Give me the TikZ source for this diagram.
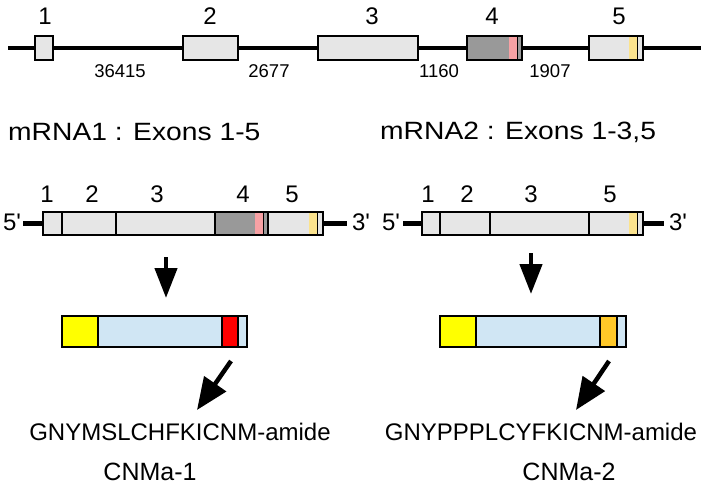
\documentclass[tikz,border=0pt]{standalone}
\usepackage{fontspec}
\setmainfont{Liberation Sans}
\usetikzlibrary{arrows.meta}
\definecolor{exgray}{HTML}{E6E6E6}
\definecolor{exdark}{HTML}{999999}
\definecolor{expink}{HTML}{F7A1A4}
\definecolor{exyel}{HTML}{FBE38E}
\definecolor{pyel}{HTML}{FFFF00}
\definecolor{pblue}{HTML}{D0E6F4}
\definecolor{pred}{HTML}{FF0000}
\definecolor{porange}{HTML}{FFC828}
\begin{document}
\begin{tikzpicture}[x=1pt,y=-1pt,
  bx/.style={draw=black, line width=1.3pt},
  sep/.style={draw=black, line width=1.1pt},
  gline/.style={line width=4pt},
  bigarrow/.style={line width=4.5pt, -{Triangle[length=30pt,width=22pt]}},
  numlab/.style={font=\fontsize{24}{27}\selectfont, inner sep=0pt},
  intlab/.style={font=\fontsize{18.5}{21}\selectfont, inner sep=0pt},
  head/.style={font=\fontsize{25}{28}\selectfont, inner sep=0pt, anchor=west},
  seq/.style={font=\fontsize{24}{28}\selectfont, inner sep=0pt},
]
\useasboundingbox (0,0) rectangle (705,498);

% ---------- genomic structure ----------
\coordinate (gL) at (8,48);
\coordinate (gR) at (701,48);
\draw[gline] (gL) -- (gR);
\filldraw[fill=exgray, bx] (35,36) rectangle (53,60);
\filldraw[fill=exgray, bx] (183,36) rectangle (238,60);
\filldraw[fill=exgray, bx] (318,36) rectangle (418,60);
\fill[exdark] (467,36) rectangle (522,60);
\fill[expink] (509,36) rectangle (517,60);
\draw[line width=0.8pt] (517.5,36) -- (517.5,60);
\draw[bx] (467,36) rectangle (522,60);
\fill[exgray] (589,36) rectangle (643,60);
\fill[exyel] (629,36) rectangle (637,60);
\draw[line width=0.8pt] (637.5,36) -- (637.5,60);
\draw[bx] (589,36) rectangle (643,60);

\node[numlab] (t1) at (45,16) {1};
\node[numlab] (t2) at (210,16) {2};
\node[numlab] (t3) at (372,16) {3};
\node[numlab] (t4) at (492,16) {4};
\node[numlab] (t5) at (619,16) {5};

\node[intlab] (i1) at (120,71) {36415};
\node[intlab] (i2) at (269,71) {2677};
\node[intlab] (i3) at (439,71) {1160};
\node[intlab] (i4) at (550,71) {1907};

% ---------- headings ----------
\node[head] (h1) at (8,132) {\scalebox{1.13}[1]{mRNA1 : Exons 1-5}};
\node[head] (h2) at (380,132) {\scalebox{1.13}[1]{mRNA2 : Exons 1-3,5}};

% ---------- mRNA1 ----------
\coordinate (m1L) at (23,223);
\coordinate (m1R) at (347,223);
\draw[gline, line width=5pt] (m1L) -- (m1R);
\fill[exgray] (43,212) rectangle (323,235);
\fill[exdark] (215,212) rectangle (268,235);
\fill[expink] (255,212) rectangle (263,235);
\fill[exyel] (309,212) rectangle (317,235);
\draw[sep] (62,212) -- (62,235);
\draw[sep] (116,212) -- (116,235);
\draw[sep] (215,212) -- (215,235);
\draw[sep] (268,212) -- (268,235);
\draw[line width=0.8pt] (263.5,212) -- (263.5,235);
\draw[line width=0.8pt] (317.5,212) -- (317.5,235);
\draw[bx] (43,212) rectangle (323,235);

\node[numlab] (a1) at (47,194) {1};
\node[numlab] (a2) at (92,194) {2};
\node[numlab] (a3) at (157,194) {3};
\node[numlab] (a4) at (243,194) {4};
\node[numlab] (a5) at (292,194) {5};
\node[numlab] (a5p) at (12,222) {5\textquotesingle};
\node[numlab] (a3p) at (361,222) {3\textquotesingle};

% ---------- mRNA2 ----------
\coordinate (m2L) at (403,223);
\coordinate (m2R) at (664,223);
\draw[gline, line width=5pt] (m2L) -- (m2R);
\fill[exgray] (422,212) rectangle (643,235);
\fill[exyel] (629,212) rectangle (637,235);
\draw[sep] (440,212) -- (440,235);
\draw[sep] (490,212) -- (490,235);
\draw[sep] (589,212) -- (589,235);
\draw[line width=0.8pt] (637.5,212) -- (637.5,235);
\draw[bx] (422,212) rectangle (643,235);

\node[numlab] (b1) at (428,194) {1};
\node[numlab] (b2) at (467,194) {2};
\node[numlab] (b3) at (531,194) {3};
\node[numlab] (b5) at (610,194) {5};
\node[numlab] (b5p) at (391,222) {5\textquotesingle};
\node[numlab] (b3p) at (678,222) {3\textquotesingle};

% ---------- down arrows ----------
\coordinate (d1s) at (166,257);
\coordinate (d1e) at (166,298);
\draw[bigarrow] (d1s) -- (d1e);
\coordinate (d2s) at (531,253);
\coordinate (d2e) at (531,294);
\draw[bigarrow] (d2s) -- (d2e);

% ---------- proteins ----------
\fill[pblue] (62,316) rectangle (247,347);
\fill[pyel] (62,316) rectangle (98,347);
\fill[pred] (222,316) rectangle (238,347);
\draw[sep] (98,316) -- (98,347);
\draw[sep] (222,316) -- (222,347);
\draw[sep] (238,316) -- (238,347);
\draw[bx] (62,316) rectangle (247,347);

\fill[pblue] (440,316) rectangle (626,347);
\fill[pyel] (440,316) rectangle (476,347);
\fill[porange] (600,316) rectangle (617,347);
\draw[sep] (476,316) -- (476,347);
\draw[sep] (600,316) -- (600,347);
\draw[sep] (617,316) -- (617,347);
\draw[bx] (440,316) rectangle (626,347);

% ---------- diagonal arrows ----------
\coordinate (e1s) at (231,361);
\coordinate (e1e) at (197,410);
\draw[bigarrow, -{Triangle[length=32pt,width=26pt]}] (e1s) -- (e1e);
\coordinate (e2s) at (609,361);
\coordinate (e2e) at (576,410);
\draw[bigarrow, -{Triangle[length=32pt,width=26pt]}] (e2s) -- (e2e);

% ---------- sequences ----------
\node[seq] (s1) at (180,432) {GNYMSLCHFKICNM-amide};
\node[seq] (s2) at (541,432) {GNYPPPLCYFKICNM-amide};
\node[seq, font=\fontsize{25}{28}\selectfont] (c1) at (150,472) {CNMa-1};
\node[seq, font=\fontsize{25}{28}\selectfont] (c2) at (569,472) {CNMa-2};
\end{tikzpicture}
\end{document}
